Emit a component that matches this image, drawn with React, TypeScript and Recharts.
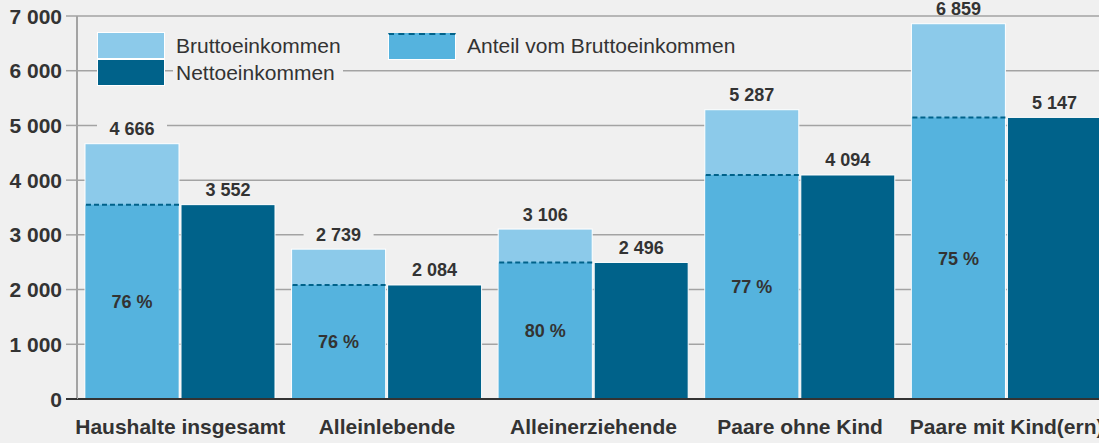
import React from 'react';
import { BarChart, Bar, XAxis, YAxis, CartesianGrid, LabelList } from 'recharts';

const categories = ['Haushalte insgesamt', 'Alleinlebende', 'Alleinerziehende', 'Paare ohne Kind', 'Paare mit Kind(ern)'];
const brutto = [4666, 2739, 3106, 5287, 6859];
const netto = [3552, 2084, 2496, 4094, 5147];
const anteil = [76, 76, 80, 77, 75];
const yTicks = [0, 1000, 2000, 3000, 4000, 5000, 6000, 7000];

const data = categories.map((name, i) => ({
  name,
  brutto: brutto[i],
  netto: netto[i],
  anteil: anteil[i],
}));

const LIGHT = '#8ccaea';
const MID = '#55b3de';
const DARK = '#00628a';
const BG = '#f0f0f0';
const GRID = '#a3a3a3';
const TEXT = '#333';
const FONT = '"Liberation Sans", Arial, sans-serif';

const fmt = (v: number) => String(v).replace(/\B(?=(\d{3})+(?!\d))/g, ' ');

// gross bar: light top part, share of net (mid blue) below a dashed line
function GrossShape(props: any) {
  const { x, y, width, height, payload } = props;
  const netH = (height * payload.netto) / payload.brutto;
  const netY = y + height - netH;
  return (
    <g>
      <rect x={x} y={y} width={width} height={height} fill={LIGHT} stroke="#fff" strokeWidth={1} />
      <rect x={x + 0.5} y={netY} width={width - 1} height={netH - 0.5} fill={MID} />
      <line x1={x + 1} x2={x + width} y1={netY} y2={netY} stroke={DARK} strokeWidth={2} strokeDasharray="5 3" />
      <text
        x={x + width / 2}
        y={netY + netH / 2}
        dy="0.36em"
        textAnchor="middle"
        fontSize={18}
        fontWeight="bold"
        fill={TEXT}
        fontFamily={FONT}
      >
        {payload.anteil} %
      </text>
    </g>
  );
}

function ValueLabel(props: any) {
  const { x, y, width, value } = props;
  const cx = x + width / 2;
  const cy = y - 15;
  return (
    <g>
      <rect x={cx - 35} y={cy - 6} width={70} height={12} fill={BG} />
      <text x={cx} y={cy} dy="0.36em" textAnchor="middle" fontSize={18} fontWeight="bold" fill={TEXT} fontFamily={FONT}>
        {fmt(value)}
      </text>
    </g>
  );
}

function YTick(props: any) {
  const { x, y, payload } = props;
  const zero = payload.value === 0;
  return (
    <g>
      <line x1={x - 11} x2={x} y1={y} y2={y} stroke={zero ? TEXT : GRID} strokeWidth={zero ? 2 : 1.5} />
      <text x={x - 15} y={y} dy="0.36em" textAnchor="end" fontSize={21} fontWeight="bold" fill={TEXT} fontFamily={FONT}>
        {fmt(payload.value)}
      </text>
    </g>
  );
}

function XTick(props: any) {
  const { x, y, payload } = props;
  return (
    <text x={x} y={y + 35} textAnchor="middle" fontSize={21} fontWeight="bold" fill={TEXT} fontFamily={FONT}>
      {payload.value}
    </text>
  );
}

const legendText: React.CSSProperties = {
  position: 'absolute',
  height: 26,
  lineHeight: '26px',
  fontSize: 21,
  color: TEXT,
  whiteSpace: 'nowrap',
};

export default function App() {
  return (
    <div
      style={{
        position: 'fixed',
        left: 0,
        top: 0,
        width: 1099,
        height: 443,
        overflow: 'hidden',
        background: BG,
        fontFamily: FONT,
      }}
    >
      <BarChart
        width={1110}
        height={443}
        data={data}
        margin={{ top: 16, right: 0, bottom: 0, left: 0 }}
        barSize={94}
        barGap={2}
      >
        <CartesianGrid vertical={false} stroke={GRID} strokeWidth={1.5} />
        <XAxis
          dataKey="name"
          height={44}
          axisLine={{ stroke: TEXT, strokeWidth: 2 }}
          tickLine={false}
          tickSize={0}
          tickMargin={0}
          tick={<XTick />}
          interval={0}
        />
        <YAxis
          width={77}
          domain={[0, 7000]}
          ticks={yTicks}
          axisLine={{ stroke: GRID, strokeWidth: 2 }}
          tickLine={false}
          tickSize={0}
          tickMargin={0}
          tick={<YTick />}
          interval={0}
        />
        <Bar dataKey="brutto" shape={<GrossShape />} isAnimationActive={false}>
          <LabelList dataKey="brutto" content={<ValueLabel />} />
        </Bar>
        <Bar dataKey="netto" fill={DARK} stroke="#fff" strokeWidth={1} isAnimationActive={false}>
          <LabelList dataKey="netto" content={<ValueLabel />} />
        </Bar>
      </BarChart>

      {/* legend */}
      <div style={{ position: 'absolute', left: 97, top: 32, width: 66, height: 25, background: LIGHT, border: '1px solid #fff' }} />
      <div style={{ position: 'absolute', left: 97, top: 59, width: 66, height: 25, background: DARK, border: '1px solid #fff' }} />
      <div style={{ ...legendText, left: 176, top: 33 }}>Bruttoeinkommen</div>
      <div style={{ ...legendText, left: 173, top: 60, paddingLeft: 3, paddingRight: 8, background: BG }}>Nettoeinkommen</div>
      <div
        style={{
          position: 'absolute',
          left: 388,
          top: 33,
          width: 66,
          height: 24,
          background: MID,
          borderTop: `2px dashed ${DARK}`,
          borderLeft: '1px solid #fff',
          borderRight: '1px solid #fff',
          borderBottom: '1px solid #fff',
        }}
      />
      <div style={{ ...legendText, left: 467, top: 33 }}>Anteil vom Bruttoeinkommen</div>
    </div>
  );
}
